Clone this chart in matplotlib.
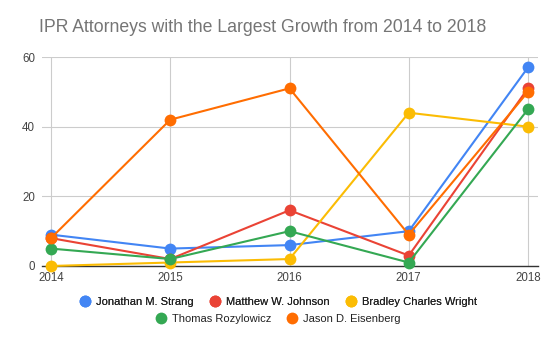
import matplotlib
matplotlib.use("Agg")
import matplotlib.pyplot as plt
from matplotlib.lines import Line2D

plt.rcParams['font.family'] = ['Liberation Sans', 'DejaVu Sans']

years = [2014, 2015, 2016, 2017, 2018]
names = ["Jonathan M. Strang", "Matthew W. Johnson", "Bradley Charles Wright",
         "Thomas Rozylowicz", "Jason D. Eisenberg"]
strang = [9, 5, 6, 10, 57]
johnson = [8, 2, 16, 3, 51]
wright = [0, 1, 2, 44, 40]
rozylowicz = [5, 2, 10, 1, 45]
eisenberg = [8, 42, 51, 9, 50]
series = [strang, johnson, wright, rozylowicz, eisenberg]
colors = ["#4285F4", "#EA4335", "#FBBC04", "#34A853", "#FF6D01"]
yticks = [0, 20, 40, 60]

fig = plt.figure(figsize=(5.55, 3.43), dpi=100)
ax = fig.add_axes([42/555, 1-266/343, (538-42)/555, (266-57)/343])

for i, (vals, c) in enumerate(zip(series, colors)):
    ax.plot(years, vals, color=c, lw=1.5, marker='o', markersize=8.5,
            markeredgewidth=0, zorder=3+i, clip_on=False)

u = 4/477
ax.set_xlim(2014 - 9*u, 2018 + 10*u)
ax.set_ylim(0, 60)
ax.set_yticks(yticks)
ax.set_xticks(years)
ax.set_xticklabels([str(y) for y in years])
ax.grid(True, color='#cccccc', lw=0.8)
ax.set_axisbelow(True)
for s in ['top', 'right', 'left']:
    ax.spines[s].set_visible(False)
ax.spines['bottom'].set_color('#333333')
ax.spines['bottom'].set_linewidth(1)
ax.tick_params(length=0, labelsize=8.3, colors='#444444', pad=4)
ax.tick_params(axis='y', pad=5)

fig.text(39/555, 1-28/343, "IPR Attorneys with the Largest Growth from 2014 to 2018",
         ha='left', va='center', fontsize=12.7, color='#757575')

def handle(c):
    return Line2D([], [], color=c, marker='o', lw=0, markersize=8.5, markeredgewidth=0)

leg1 = fig.legend([handle(c) for c in colors[:3]], names[:3], loc='center',
                  bbox_to_anchor=(0.5, 1-302/343), ncol=3, frameon=False,
                  fontsize=8, handletextpad=0.4, columnspacing=1.3,
                  handlelength=1.2, labelcolor='#222222')
leg2 = fig.legend([handle(c) for c in colors[3:]], names[3:], loc='center',
                  bbox_to_anchor=(0.5, 1-319/343), ncol=2, frameon=False,
                  fontsize=8, handletextpad=0.4, columnspacing=1.3,
                  handlelength=1.2, labelcolor='#222222')
fig.add_artist(leg1)

fig.savefig("out.png", dpi=100)
